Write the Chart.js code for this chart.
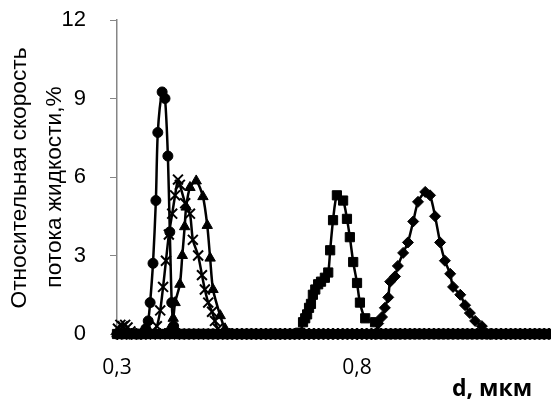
<!DOCTYPE html>
<html>
<head>
<meta charset="utf-8">
<script src="https://cdn.jsdelivr.net/npm/chart.js@4.4.1/dist/chart.umd.min.js"></script>
<style>
  html, body { margin: 0; padding: 0; background: #fff; }
  #wrap { width: 551px; height: 406px; }
</style>
</head>
<body>
<div id="wrap"><canvas id="chart" width="551" height="406"></canvas></div>
<script>
// d, мкм and relative flow rate, % for each curve
const circleD = [0.350, 0.360, 0.365, 0.369, 0.375, 0.381, 0.385, 0.394, 0.400, 0.406, 0.410, 0.414, 0.418, 0.424];
const circleV = [0, 0.2, 0.5, 1.2, 2.7, 5.1, 7.7, 9.25, 9.0, 6.8, 3.9, 1.2, 0.3, 0.05];

const crossD = [0.302, 0.307, 0.312, 0.317, 0.322, 0.328, 0.335, 0.383, 0.390, 0.396, 0.402, 0.408, 0.415, 0.421, 0.427, 0.431, 0.442, 0.452, 0.458, 0.469, 0.477, 0.483, 0.490, 0.498, 0.504, 0.510];
const crossV = [0.2, 0.35, 0.3, 0.35, 0.25, 0.1, 0, 0.3, 0.9, 1.8, 2.8, 3.8, 4.6, 5.3, 5.9, 5.7, 5.0, 4.6, 3.6, 3.0, 2.25, 1.7, 1.2, 0.85, 0.5, 0.2];

const triD = [0.410, 0.417, 0.421, 0.431, 0.436, 0.441, 0.444, 0.452, 0.465, 0.479, 0.488, 0.494, 0.500, 0.515, 0.525, 0.535];
const triV = [0.2, 0.6, 1.2, 1.9, 3.0, 4.1, 4.85, 5.6, 5.85, 5.25, 4.15, 2.9, 1.7, 0.7, 0.2, 0];

const squareD = [0.681, 0.6875, 0.692, 0.696, 0.700, 0.704, 0.708, 0.713, 0.719, 0.725, 0.733, 0.740, 0.744, 0.750, 0.758, 0.771, 0.779, 0.785, 0.792, 0.800, 0.806, 0.817, 0.8375];
const squareV = [0.05, 0.45, 0.6, 0.75, 1.0, 1.15, 1.5, 1.7, 1.9, 2.0, 2.15, 2.35, 3.2, 4.35, 5.3, 5.1, 4.4, 3.7, 2.75, 1.95, 1.2, 0.6, 0.45];

const diamondD = [0.8375, 0.844, 0.852, 0.858, 0.865, 0.869, 0.879, 0.885, 0.896, 0.906, 0.917, 0.927, 0.942, 0.952, 0.9625, 0.973, 0.983, 0.994, 1.000, 1.015, 1.025, 1.035, 1.046, 1.060, 1.077];
const diamondV = [0, 0.4, 0.65, 1.0, 1.4, 2.0, 2.2, 2.6, 3.1, 3.5, 4.3, 5.05, 5.43, 5.3, 4.5, 3.5, 2.8, 2.3, 1.8, 1.5, 1.1, 0.8, 0.5, 0.3, 0];

// measurement grid where every curve sits at zero outside its peak
const zeroD = [
  0.30, 0.31, 0.32, 0.33, 0.34, 0.35, 0.36, 0.37, 0.38, 0.39,
  0.40, 0.41, 0.42, 0.43, 0.44, 0.45, 0.46, 0.47, 0.48, 0.49,
  0.50, 0.51, 0.52, 0.53, 0.54, 0.55, 0.56, 0.57, 0.58, 0.59,
  0.60, 0.61, 0.62, 0.63, 0.64, 0.65, 0.66, 0.67, 0.68, 0.69,
  0.70, 0.71, 0.72, 0.73, 0.74, 0.75, 0.76, 0.77, 0.78, 0.79,
  0.80, 0.81, 0.82, 0.83, 0.84, 0.85, 0.86, 0.87, 0.88, 0.89,
  0.90, 0.91, 0.92, 0.93, 0.94, 0.95, 0.96, 0.97, 0.98, 0.99,
  1.00, 1.01, 1.02, 1.03, 1.04, 1.05, 1.06, 1.07, 1.08, 1.09,
  1.10, 1.11, 1.12, 1.13, 1.14, 1.15, 1.16, 1.17, 1.18, 1.19, 1.20
];

const xTicks = [0.3, 0.8];
const xTickLabels = ['0,3', '0,8'];
const yTicks = [0, 3, 6, 9, 12];
const yTitle = ['Относительная скорость', 'потока жидкости,%'];
const xTitle = 'd, мкм';

// merge a peak with the zero points of the grid that fall outside it
function makeSeries(ds, vs) {
  const pts = ds.map((d, i) => ({ x: d, y: vs[i] }));
  zeroD.forEach(z => {
    const near = ds.some(d => Math.abs(d - z) < 0.005);
    const left = ds.some(d => d < z && z - d <= 0.016);
    const right = ds.some(d => d > z && d - z <= 0.016);
    if (!near && !(left && right)) pts.push({ x: z, y: 0 });
  });
  return pts.sort((a, b) => a.x - b.x);
}

function series(ds, vs, style, radius, extra) {
  return Object.assign({
    data: makeSeries(ds, vs),
    showLine: true,
    borderColor: '#000',
    backgroundColor: '#000',
    borderWidth: 2.5,
    tension: 0.25,
    pointStyle: style,
    pointRadius: radius,
    pointBackgroundColor: '#000',
    pointBorderColor: '#000',
    pointBorderWidth: 1,
    clip: false
  }, extra || {});
}

const textPlugin = {
  id: 'texts',
  afterDraw(chart) {
    const ctx = chart.ctx;
    ctx.save();
    ctx.fillStyle = '#000';
    ctx.textAlign = 'center';
    ctx.textBaseline = 'middle';
    ctx.font = '22.7px "Liberation Sans", Arial, sans-serif';
    ctx.save();
    ctx.translate(20, 178);
    ctx.rotate(-Math.PI / 2);
    ctx.fillText(yTitle[0], 0, 0);
    ctx.restore();
    ctx.save();
    ctx.translate(55, 187);
    ctx.rotate(-Math.PI / 2);
    ctx.fillText(yTitle[1], 0, 0);
    ctx.restore();
    ctx.font = 'bold 23px "Open Sans", "DejaVu Sans", sans-serif';
    ctx.fillText(xTitle, 492, 389);
    ctx.restore();
  }
};

new Chart(document.getElementById('chart').getContext('2d'), {
  type: 'scatter',
  data: {
    datasets: [
      series(squareD, squareV, 'rect', 6.5),
      series(diamondD, diamondV, 'rectRot', 5.5),
      series(triD, triV, 'triangle', 6),
      series(crossD, crossV, 'crossRot', 7, { pointBorderWidth: 2 }),
      series(circleD, circleV, 'circle', 5)
    ]
  },
  options: {
    responsive: false,
    animation: false,
    events: [],
    layout: { autoPadding: false, padding: { top: 20, left: 0, right: 0, bottom: 0 } },
    plugins: { legend: { display: false }, tooltip: { enabled: false } },
    scales: {
      x: {
        type: 'linear',
        min: 0.3,
        max: 1.204,
        afterBuildTicks: s => { s.ticks = xTicks.map(v => ({ value: v })); },
        afterFit: s => { s.height = 72; s.paddingLeft = 0; s.paddingRight = 0; },
        grid: { display: true, drawOnChartArea: false, drawTicks: true, tickLength: 6, color: '#000' },
        border: { display: true, color: '#000', width: 1 },
        ticks: {
          color: '#000',
          padding: 15,
          maxRotation: 0,
          font: { family: '"Open Sans", "DejaVu Sans", sans-serif', size: 21 },
          callback: v => xTickLabels[xTicks.indexOf(v)]
        }
      },
      y: {
        min: 0,
        max: 12,
        afterBuildTicks: s => { s.ticks = yTicks.map(v => ({ value: v })); },
        afterFit: s => { s.width = 117; s.paddingTop = 0; s.paddingBottom = 0; },
        grid: { display: true, drawOnChartArea: false, drawTicks: true, tickLength: 7, color: '#868686' },
        border: { display: true, color: '#868686', width: 1.5 },
        ticks: {
          color: '#000',
          padding: 24,
          font: { family: '"Liberation Sans", Arial, sans-serif', size: 22 }
        }
      }
    }
  },
  plugins: [textPlugin]
});
</script>
</body>
</html>
